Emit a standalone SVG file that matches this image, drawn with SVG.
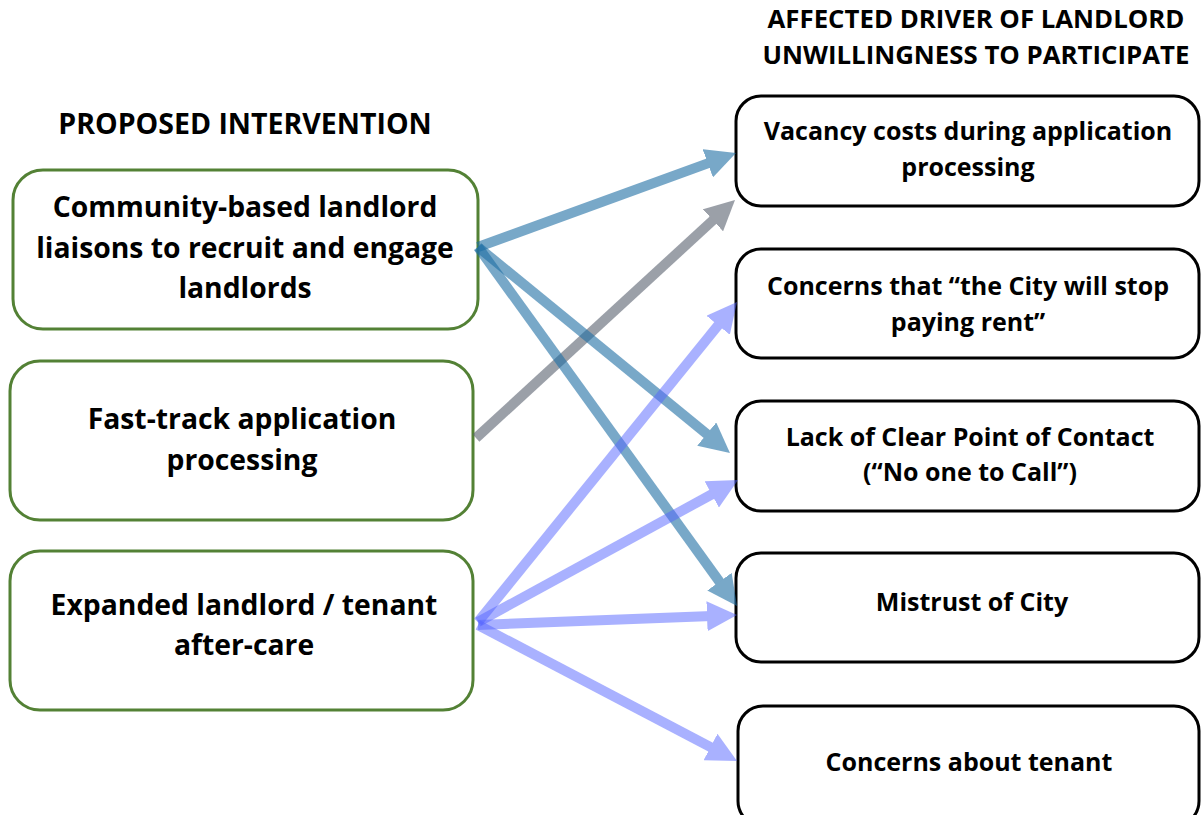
<svg xmlns="http://www.w3.org/2000/svg" width="1201" height="815" viewBox="0 0 1201 815">
<style>
text{font-family:"Open Sans","Liberation Sans",sans-serif;font-weight:bold;fill:#000;text-anchor:middle}
.hl{font-size:28.5px}
.hr{font-size:25.8px}
.lt{font-size:28.3px}
.rt{font-size:25px}
.lb{fill:#fff;stroke:#538135;stroke-width:3}
.rb{fill:#fff;stroke:#000;stroke-width:3}
.ln{stroke-width:10;fill:none}
.blue{stroke:#1f6fa5;opacity:0.6}
.gray{stroke:#5a6270;opacity:0.6}
.lav{stroke:#5565ff;opacity:0.5}
</style>
<defs>
<marker id="hBlue" markerUnits="userSpaceOnUse" markerWidth="30" markerHeight="30" viewBox="0 0 30 30" refX="5" refY="15" orient="auto"><path d="M0,0 L30,15 L0,30 z" fill="#1f6fa5"/></marker>
<marker id="hGray" markerUnits="userSpaceOnUse" markerWidth="30" markerHeight="30" viewBox="0 0 30 30" refX="5" refY="15" orient="auto"><path d="M0,0 L30,15 L0,30 z" fill="#5a6270"/></marker>
<marker id="hLav" markerUnits="userSpaceOnUse" markerWidth="30" markerHeight="30" viewBox="0 0 30 30" refX="5" refY="15" orient="auto"><path d="M0,0 L30,15 L0,30 z" fill="#5565ff"/></marker>
</defs>
<rect width="1201" height="815" fill="#fff"/>
<g id="headers">
<text class="hl" x="245" y="134">PROPOSED INTERVENTION</text>
<text class="hr" x="976" y="28">AFFECTED DRIVER OF LANDLORD</text>
<text class="hr" x="976" y="64">UNWILLINGNESS TO PARTICIPATE</text>
</g>
<g id="i1"><rect class="lb" x="13" y="170" width="465" height="159" rx="30"/>
<text class="lt" x="245" y="217">Community-based landlord</text>
<text class="lt" x="245" y="258">liaisons to recruit and engage</text>
<text class="lt" x="245" y="298">landlords</text></g>
<g id="i2"><rect class="lb" x="10" y="361" width="463" height="159" rx="30"/>
<text class="lt" x="242" y="429">Fast-track application</text>
<text class="lt" x="242" y="470">processing</text></g>
<g id="i3"><rect class="lb" x="10" y="551" width="463" height="159" rx="30"/>
<text class="lt" x="244" y="615">Expanded landlord / tenant</text>
<text class="lt" x="244" y="655">after-care</text></g>
<g id="d1"><rect class="rb" x="736" y="96" width="463" height="110" rx="25"/>
<text class="rt" x="968" y="140">Vacancy costs during application</text>
<text class="rt" x="968" y="176">processing</text></g>
<g id="d2"><rect class="rb" x="736" y="249" width="463" height="109" rx="25"/>
<text class="rt" x="968" y="295">Concerns that “the City will stop</text>
<text class="rt" x="968" y="331">paying rent”</text></g>
<g id="d3"><rect class="rb" x="736" y="401" width="463" height="110" rx="25"/>
<text class="rt" x="970" y="446">Lack of Clear Point of Contact</text>
<text class="rt" x="970" y="481">(“No one to Call”)</text></g>
<g id="d4"><rect class="rb" x="736" y="553" width="463" height="109" rx="25"/>
<text class="rt" x="972" y="611">Mistrust of City</text></g>
<g id="d5"><rect class="rb" x="738" y="706" width="461" height="120" rx="25"/>
<text class="rt" x="969" y="771">Concerns about tenant</text></g>
<g id="connectors">
<g class="blue"><line class="ln" x1="478" y1="247" x2="712.5" y2="161.6" marker-end="url(#hBlue)"/></g>
<g class="gray"><line class="ln" x1="476" y1="438" x2="716.6" y2="216.9" marker-end="url(#hGray)"/></g>
<g class="blue"><line class="ln" x1="478" y1="247" x2="710.6" y2="437.2" marker-end="url(#hBlue)"/></g>
<g class="blue"><line class="ln" x1="478" y1="247" x2="722.4" y2="585.7" marker-end="url(#hBlue)"/></g>
<g class="lav"><line class="ln" x1="478" y1="622" x2="721.3" y2="321.4" marker-end="url(#hLav)"/></g>
<g class="lav"><line class="ln" x1="478" y1="622" x2="716.1" y2="492" marker-end="url(#hLav)"/></g>
<g class="lav"><line class="ln" x1="478" y1="625" x2="712" y2="616" marker-end="url(#hLav)"/></g>
<g class="lav"><line class="ln" x1="478" y1="625" x2="714.9" y2="749.4" marker-end="url(#hLav)"/></g>
</g>
</svg>
